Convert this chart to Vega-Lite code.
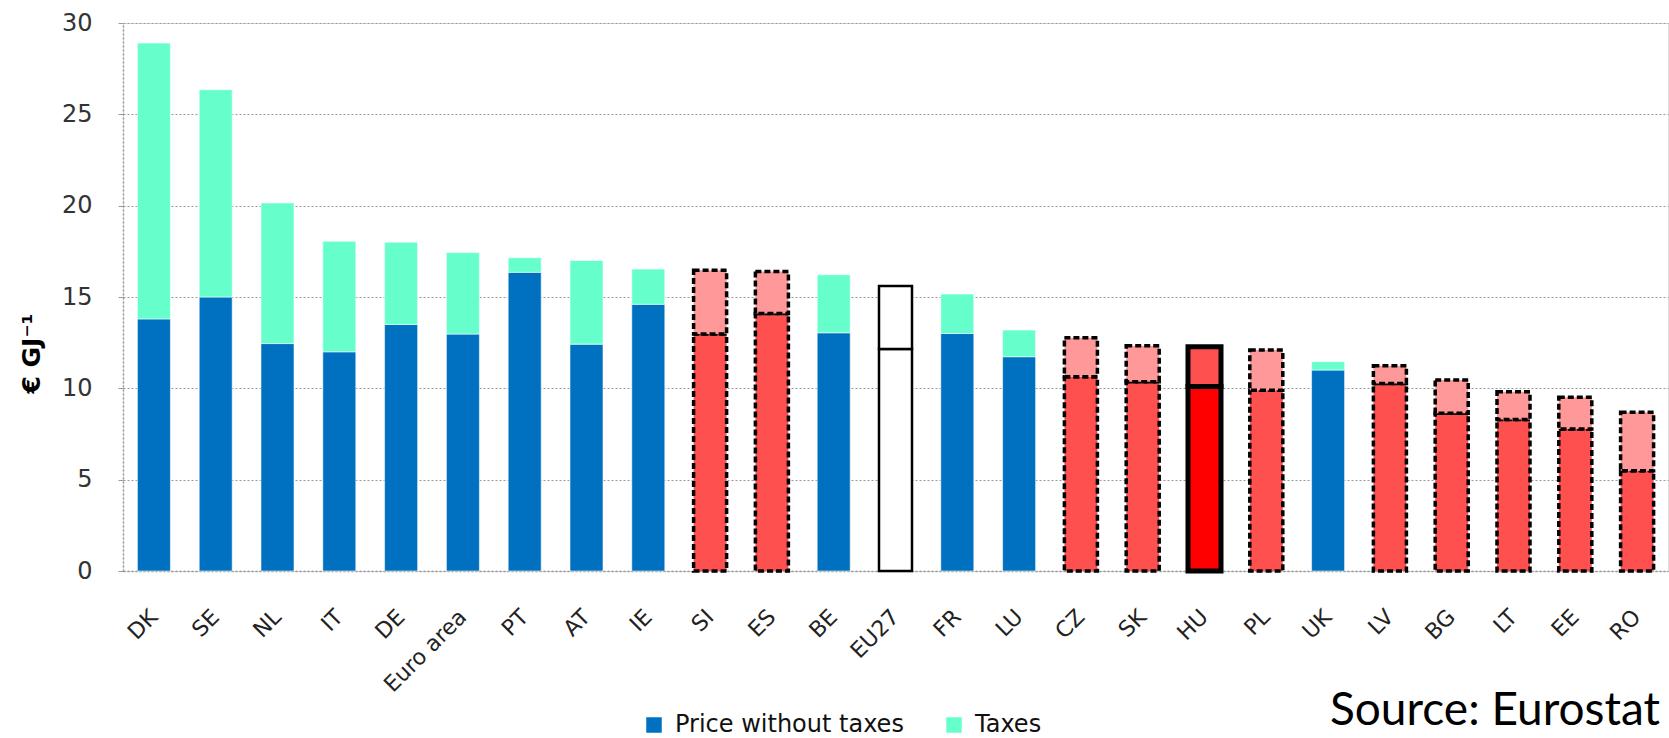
{
  "$schema": "https://vega.github.io/schema/vega-lite/v6.json",
  "width": 1545,
  "height": 548,
  "autosize": {"type": "none"},
  "padding": {"left": 123, "top": 23, "right": 1, "bottom": 167},
  "background": "white",
  "title": {
    "text": "Source: Eurostat",
    "orient": "bottom",
    "anchor": "end",
    "frame": "group",
    "font": "Lato",
    "fontSize": 46,
    "fontWeight": "normal",
    "color": "#000000",
    "dx": -8,
    "dy": -58,
    "offset": 10
  },
  "data": {
    "values": [
      {"country": "DK", "part": "Price without taxes", "value": 13.8, "group": "other"},
      {"country": "DK", "part": "Taxes", "value": 15.1, "group": "other"},
      {"country": "SE", "part": "Price without taxes", "value": 15.0, "group": "other"},
      {"country": "SE", "part": "Taxes", "value": 11.35, "group": "other"},
      {"country": "NL", "part": "Price without taxes", "value": 12.45, "group": "other"},
      {"country": "NL", "part": "Taxes", "value": 7.7, "group": "other"},
      {"country": "IT", "part": "Price without taxes", "value": 12.0, "group": "other"},
      {"country": "IT", "part": "Taxes", "value": 6.05, "group": "other"},
      {"country": "DE", "part": "Price without taxes", "value": 13.5, "group": "other"},
      {"country": "DE", "part": "Taxes", "value": 4.5, "group": "other"},
      {"country": "Euro area", "part": "Price without taxes", "value": 12.97, "group": "other"},
      {"country": "Euro area", "part": "Taxes", "value": 4.46, "group": "other"},
      {"country": "PT", "part": "Price without taxes", "value": 16.35, "group": "other"},
      {"country": "PT", "part": "Taxes", "value": 0.8, "group": "other"},
      {"country": "AT", "part": "Price without taxes", "value": 12.42, "group": "other"},
      {"country": "AT", "part": "Taxes", "value": 4.58, "group": "other"},
      {"country": "IE", "part": "Price without taxes", "value": 14.6, "group": "other"},
      {"country": "IE", "part": "Taxes", "value": 1.93, "group": "other"},
      {"country": "SI", "part": "Price without taxes", "value": 12.97, "group": "highlighted"},
      {"country": "SI", "part": "Taxes", "value": 3.5, "group": "highlighted"},
      {"country": "ES", "part": "Price without taxes", "value": 14.1, "group": "highlighted"},
      {"country": "ES", "part": "Taxes", "value": 2.3, "group": "highlighted"},
      {"country": "BE", "part": "Price without taxes", "value": 13.04, "group": "other"},
      {"country": "BE", "part": "Taxes", "value": 3.18, "group": "other"},
      {"country": "EU27", "part": "Price without taxes", "value": 12.15, "group": "average"},
      {"country": "EU27", "part": "Taxes", "value": 3.45, "group": "average"},
      {"country": "FR", "part": "Price without taxes", "value": 13.0, "group": "other"},
      {"country": "FR", "part": "Taxes", "value": 2.16, "group": "other"},
      {"country": "LU", "part": "Price without taxes", "value": 11.73, "group": "other"},
      {"country": "LU", "part": "Taxes", "value": 1.46, "group": "other"},
      {"country": "CZ", "part": "Price without taxes", "value": 10.64, "group": "highlighted"},
      {"country": "CZ", "part": "Taxes", "value": 2.13, "group": "highlighted"},
      {"country": "SK", "part": "Price without taxes", "value": 10.36, "group": "highlighted"},
      {"country": "SK", "part": "Taxes", "value": 1.97, "group": "highlighted"},
      {"country": "HU", "part": "Price without taxes", "value": 10.1, "group": "focus"},
      {"country": "HU", "part": "Taxes", "value": 2.18, "group": "focus"},
      {"country": "PL", "part": "Price without taxes", "value": 9.9, "group": "highlighted"},
      {"country": "PL", "part": "Taxes", "value": 2.2, "group": "highlighted"},
      {"country": "UK", "part": "Price without taxes", "value": 11.0, "group": "other"},
      {"country": "UK", "part": "Taxes", "value": 0.46, "group": "other"},
      {"country": "LV", "part": "Price without taxes", "value": 10.27, "group": "highlighted"},
      {"country": "LV", "part": "Taxes", "value": 0.97, "group": "highlighted"},
      {"country": "BG", "part": "Price without taxes", "value": 8.63, "group": "highlighted"},
      {"country": "BG", "part": "Taxes", "value": 1.82, "group": "highlighted"},
      {"country": "LT", "part": "Price without taxes", "value": 8.3, "group": "highlighted"},
      {"country": "LT", "part": "Taxes", "value": 1.51, "group": "highlighted"},
      {"country": "EE", "part": "Price without taxes", "value": 7.77, "group": "highlighted"},
      {"country": "EE", "part": "Taxes", "value": 1.74, "group": "highlighted"},
      {"country": "RO", "part": "Price without taxes", "value": 5.49, "group": "highlighted"},
      {"country": "RO", "part": "Taxes", "value": 3.2, "group": "highlighted"}
    ]
  },
  "mark": {"type": "bar"},
  "encoding": {
    "x": {
      "field": "country",
      "type": "nominal",
      "sort": null,
      "scale": {"paddingInner": 0.466, "paddingOuter": 0.233},
      "axis": {
        "title": null,
        "labelAngle": -45,
        "labelAlign": "right",
        "labelBaseline": "middle",
        "labelPadding": 42,
        "labelFont": "DejaVu Sans",
        "labelFontSize": 22,
        "labelColor": "#222222",
        "ticks": false,
        "domainColor": "#9a9a9a",
        "domainDash": [2, 2],
        "domainWidth": 1.5,
        "grid": false
      }
    },
    "y": {
      "field": "value",
      "type": "quantitative",
      "stack": "zero",
      "scale": {"domain": [0, 30], "nice": false},
      "axis": {
        "values": [0, 5, 10, 15, 20, 25, 30],
        "title": "€ GJ⁻¹",
        "titleFont": "DejaVu Sans",
        "titleFontSize": 25,
        "titleFontWeight": "bold",
        "titleColor": "#000000",
        "titleX": -92,
        "titleY": 330,
        "titleAngle": -90,
        "titleAlign": "center",
        "titleBaseline": "middle",
        "labelFont": "DejaVu Sans",
        "labelFontSize": 24,
        "labelColor": "#333333",
        "labelPadding": 26,
        "tickSize": 5,
        "tickColor": "#9a9a9a",
        "domainColor": "#9a9a9a",
        "domainDash": [2, 2],
        "domainWidth": 1.5,
        "gridColor": "#9a9a9a",
        "gridDash": [2, 2],
        "gridWidth": 1.2
      }
    },
    "order": {"field": "part", "sort": "ascending"},
    "fill": {
      "field": "part",
      "type": "nominal",
      "scale": {
        "domain": ["Price without taxes", "Taxes"],
        "range": ["#0070C0", "#66FFCC"]
      },
      "legend": {
        "title": null,
        "orient": "none",
        "direction": "horizontal",
        "legendX": 519,
        "legendY": 690,
        "symbolType": "square",
        "symbolSize": 240,
        "symbolStrokeWidth": 0,
        "labelFont": "DejaVu Sans",
        "labelFontSize": 24,
        "labelColor": "#111111",
        "labelLimit": 400,
        "labelOffset": 9,
        "columnPadding": 38
      },
      "condition": [
        {"test": "datum.group === 'focus' && datum.part === 'Price without taxes'", "value": "#FF0000"},
        {"test": "datum.group === 'focus'", "value": "#FF5050"},
        {"test": "datum.group === 'average'", "value": "#FFFFFF"},
        {"test": "datum.group === 'highlighted' && datum.part === 'Price without taxes'", "value": "#FF5050"},
        {"test": "datum.group === 'highlighted'", "value": "#FF9999"}
      ]
    },
    "stroke": {
      "condition": {"test": "datum.group !== 'other'", "value": "#000000"},
      "value": "#FFFFFF"
    },
    "strokeWidth": {
      "condition": [
        {"test": "datum.group === 'focus'", "value": 5},
        {"test": "datum.group === 'highlighted'", "value": 3.5},
        {"test": "datum.group === 'average'", "value": 2.5}
      ],
      "value": 0.6
    },
    "strokeDash": {
      "condition": {"test": "datum.group === 'highlighted'", "value": [6, 3]},
      "value": [1, 0]
    }
  }
}
